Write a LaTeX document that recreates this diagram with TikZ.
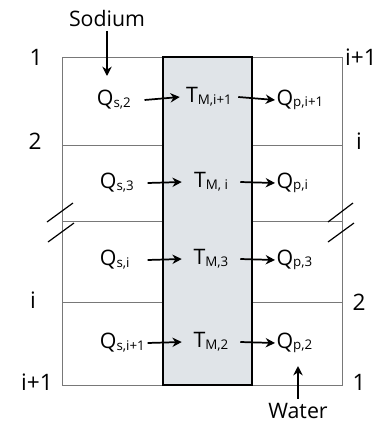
\documentclass[tikz,border=0pt]{standalone}
\usepackage{fontspec}
\setmainfont{Open Sans}
\usetikzlibrary{arrows.meta}
\definecolor{wallfill}{RGB}{224,228,232}
\definecolor{gridline}{RGB}{120,120,120}
\newcommand{\sbs}[1]{\raisebox{-1.2pt}{\fontsize{10}{12}\selectfont #1}}
\begin{document}
\begin{tikzpicture}[x=0.75pt,y=-0.75pt,>={Stealth[length=7pt,width=7pt]},
  font=\fontsize{16}{19}\selectfont,
  flow/.style={->,line width=1.3pt},
  qs/.style={anchor=west,text width=35pt,align=left,inner sep=0.5pt},
  tm/.style={minimum width=43.5pt,inner sep=0pt},
  qp/.style={anchor=west,inner sep=1pt},
  side/.style={font=\fontsize{17}{20}\selectfont,inner sep=0pt}]
\useasboundingbox (0,0) rectangle (378,429);
\draw[gridline,line width=0.6pt] (62,57) rectangle (342,385);
\draw[gridline,line width=0.6pt] (62,145)--(342,145);
\draw[gridline,line width=0.6pt] (62,221)--(342,221);
\draw[gridline,line width=0.6pt] (62,302)--(342,302);
\draw[fill=wallfill,line width=0.9pt] (163,57) rectangle (252,385);
\draw[line width=0.9pt] (47,222)--(73,203);
\draw[line width=0.9pt] (48,242)--(74,223);
\draw[line width=0.9pt] (328,222)--(353,203);
\draw[line width=0.9pt] (328,242)--(354,223);
\node[side] (la) at (36,57) {1};
\node[side] (lb) at (35,141) {2};
\node[side] (lc) at (33,300) {i};
\node[side] (ld) at (37,382) {i+1};
\node[side] (ra) at (361,57) {i+1};
\node[side] (rb) at (359,141) {i};
\node[side] (rc) at (359,302) {2};
\node[side] (rd) at (359,382) {1};
\node (qs1) [qs] at (96,100) {Q\sbs{s,2}};
\node (qs2) [qs] at (99,183) {Q\sbs{s,3}};
\node (qs3) [qs] at (99,260) {Q\sbs{s,i}};
\node (qs4) [qs] at (99,343) {Q\sbs{s,i+1}};
\node (tm1) [tm] at (209,97) {T\sbs{M,i+1}};
\node (tm2) [tm] at (211,182) {T\sbs{M, i}};
\node (tm3) [tm] at (211,259) {T\sbs{M,3}};
\node (tm4) [tm] at (211,342) {T\sbs{M,2}};
\node (qp1) [qp] at (275,100) {Q\sbs{p,i+1}};
\node (qp2) [qp] at (275,183) {Q\sbs{p,i}};
\node (qp3) [qp] at (275,260) {Q\sbs{p,3}};
\node (qp4) [qp] at (275,343) {Q\sbs{p,2}};
\draw[flow] (qs1.east)--(tm1.west);
\draw[flow] (qs2.east)--(tm2.west);
\draw[flow] (qs3.east)--(tm3.west);
\draw[flow] (qs4.east)--(tm4.west);
\draw[flow] (tm1.east)--(qp1.west);
\draw[flow] (tm2.east)--(qp2.west);
\draw[flow] (tm3.east)--(qp3.west);
\draw[flow] (tm4.east)--(qp4.west);
\node (Na) at (107,18) {Sodium};
\coordinate (Naend) at (107,76);
\draw[flow] (Na.south)--(Naend);
\node (H2O) at (298,411) {Water};
\coordinate (H2Oend) at (298,366);
\draw[flow] (H2O.north)--(H2Oend);
\end{tikzpicture}
\end{document}
